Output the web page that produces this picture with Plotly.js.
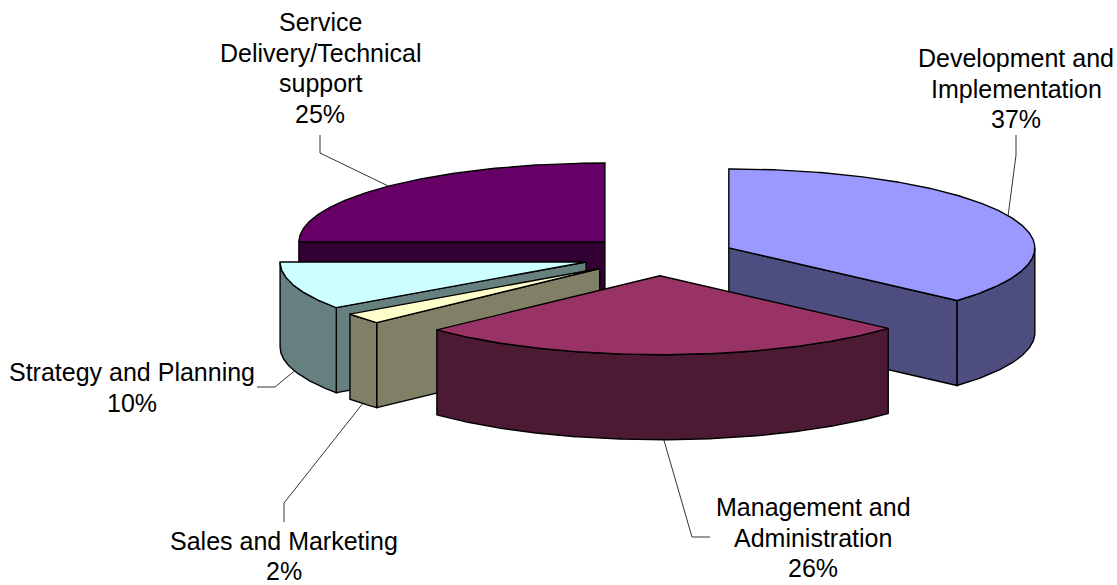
<!DOCTYPE html>
<html>
<head>
<meta charset="utf-8">
<script src="https://cdn.plot.ly/plotly-3.0.1.min.js"></script>
<style>html,body{margin:0;padding:0;background:#fff}#chart{width:1117px;height:585px}</style>
</head>
<body>
<div id="chart"></div>
<script>
// Data, clockwise from twelve o'clock
const categories = ["Development and Implementation", "Management and Administration", "Sales and Marketing", "Strategy and Planning", "Service Delivery/Technical support"];
const values = [36.6, 26.4, 2.2, 9.8, 25.0];
const labelLines = [
  ["Development and", "Implementation"],
  ["Management and", "Administration"],
  ["Sales and Marketing"],
  ["Strategy and Planning"],
  ["Service", "Delivery/Technical", "support"]
];
const topColors = ["#9999FF", "#993366", "#FFFFCC", "#CCFFFF", "#660066"];
const sideColors = ["#4D4D80", "#4D1A33", "#808066", "#668080", "#330033"];

// Back-to-front painting order (indices into the arrays above)
const paintOrder = [4, 3, 2, 0, 1];

// Projection of the pie on the page
const W = 1117, H = 585;
const pie = {cx: 659, cy: 256, rx: 306, ry: 79, depth: 85, explode: 0.25};

// Label placement: centre x, first line y, and the leader's path from label to slice
const labelPos = [
  {x: 1016, y: 58,  leader: [[1016, 135], [1016, 155]], onTop: true},
  {x: 813,  y: 507, leader: [[710, 537], [692, 537]], onTop: false},
  {x: 284,  y: 540.5, leader: [[284, 522], [284, 503]], onTop: false},
  {x: 132,  y: 372, leader: [[257, 387], [275, 387]], onTop: false},
  {x: 320,  y: 22,  leader: [[320, 135], [320, 153]], onTop: true}
];
const lineStep = 30.5;
const fontSize = 25;

const total = values.reduce((a, b) => a + b, 0);
const rad = d => d * Math.PI / 180;
const slices = [];
let acc = 0;
values.forEach(v => {
  const a0 = acc / total * 360;
  acc += v;
  const a1 = acc / total * 360;
  const mid = rad((a0 + a1) / 2);
  slices.push({
    a0, a1,
    cx: pie.cx + pie.rx * pie.explode * Math.sin(mid),
    cy: pie.cy - pie.ry * pie.explode * Math.cos(mid)
  });
});

function rim(s, a, drop) {
  return [s.cx + pie.rx * Math.sin(rad(a)), s.cy - pie.ry * Math.cos(rad(a)) + (drop || 0)];
}
function arc(s, from, to, drop) {
  const n = Math.max(2, Math.ceil(Math.abs(to - from) * 2));
  const pts = [];
  for (let i = 0; i <= n; i++) pts.push(rim(s, from + (to - from) * i / n, drop));
  return pts;
}
function face(pts, color) {
  const closed = pts.concat([pts[0]]);
  return {
    type: "scatter", mode: "lines",
    x: closed.map(p => p[0]), y: closed.map(p => p[1]),
    fill: "toself", fillcolor: color,
    line: {color: "#000", width: 1.4, shape: "linear"},
    hoverinfo: "skip", showlegend: false
  };
}

const traces = [];
paintOrder.forEach(i => {
  const s = slices[i];
  const apex = [s.cx, s.cy], apexLow = [s.cx, s.cy + pie.depth];
  if (s.a0 > 180 && s.a0 < 360) {
    traces.push(face([apex, rim(s, s.a0), rim(s, s.a0, pie.depth), apexLow], sideColors[i]));
  }
  if (s.a1 > 0 && s.a1 < 180) {
    traces.push(face([apex, rim(s, s.a1), rim(s, s.a1, pie.depth), apexLow], sideColors[i]));
  }
  const lo = Math.max(s.a0, 90), hi = Math.min(s.a1, 270);
  if (hi > lo) {
    traces.push(face(arc(s, lo, hi, 0).concat(arc(s, hi, lo, pie.depth)), sideColors[i]));
  }
  traces.push(face([apex].concat(arc(s, s.a0, s.a1, 0)), topColors[i]));
});

// Leader lines end on the rim at each slice's middle angle
slices.forEach((s, i) => {
  const mid = (s.a0 + s.a1) / 2;
  const end = rim(s, mid, labelPos[i].onTop ? 0 : pie.depth);
  const pts = labelPos[i].leader.concat([end]);
  traces.push({
    type: "scatter", mode: "lines",
    x: pts.map(p => p[0]), y: pts.map(p => p[1]),
    line: {color: "#000", width: 0.8},
    hoverinfo: "skip", showlegend: false
  });
});

const annotations = [];
labelLines.forEach((lines, i) => {
  const pct = Math.round(values[i] / total * 100) + "%";
  lines.concat([pct]).forEach((t, k) => {
    annotations.push({
      xref: "x", yref: "y", x: labelPos[i].x, y: labelPos[i].y + k * lineStep,
      text: t, showarrow: false, xanchor: "center", yanchor: "middle",
      font: {family: "Liberation Sans, Arial, sans-serif", size: fontSize, color: "#000"}
    });
  });
});

const hidden = {visible: false, fixedrange: true};
Plotly.newPlot("chart", traces, {
  width: W, height: H,
  margin: {l: 0, r: 0, t: 0, b: 0},
  paper_bgcolor: "#fff", plot_bgcolor: "#fff",
  xaxis: Object.assign({range: [0, W]}, hidden),
  yaxis: Object.assign({range: [H, 0]}, hidden),
  showlegend: false,
  annotations
}, {displayModeBar: false, staticPlot: true});
</script>
</body>
</html>
